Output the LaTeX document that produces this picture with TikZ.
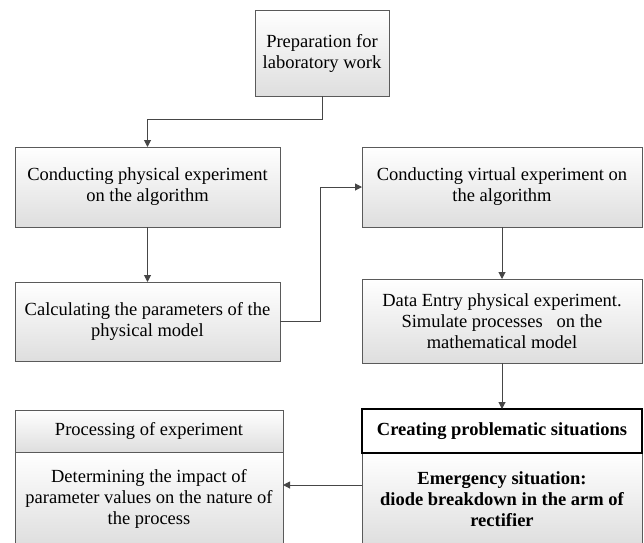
\documentclass[tikz,border=0pt]{standalone}
\usepackage{fontspec}
\setmainfont{Liberation Serif}
\usetikzlibrary{arrows.meta}
\definecolor{boxline}{RGB}{90,90,90}
\definecolor{lineclr}{RGB}{70,70,70}
\definecolor{boxbot}{RGB}{222,222,222}
\begin{document}
\begin{tikzpicture}[x=1pt,y=-1pt,
  box/.style={draw=boxline, line width=0.9pt, top color=white, bottom color=boxbot,
    align=center, inner sep=0pt, outer sep=0pt, font=\fontsize{18.5}{21}\selectfont},
  hdrbox/.style={draw=black, line width=2pt, fill=white, align=center, inner sep=0pt,
    outer sep=0pt, font=\fontsize{18.5}{21}\selectfont\bfseries},
  arr/.style={draw=lineclr, line width=1pt, -{Triangle[length=7pt,width=7pt]}},
  conn/.style={draw=lineclr, line width=1pt}]
\useasboundingbox (0,0) rectangle (644,542);
\clip (0,0) rectangle (644,542);
\node[box, minimum width=134pt, minimum height=86pt] (b1) at (322,53) {Preparation for\\laboratory work};
\node[box, minimum width=265pt, minimum height=80pt] (b2) at (147.5,187) {Conducting physical experiment\\on the algorithm};
\node[box, minimum width=265pt, minimum height=79pt] (b3) at (147.5,321.5) {Calculating the parameters of the\\physical model};
\node[box, minimum width=280pt, minimum height=80pt] (b4) at (502,187) {Conducting virtual experiment on\\the algorithm};
\node[box, minimum width=280pt, minimum height=84pt] (b5) at (502,321) {Data Entry physical experiment.\\Simulate processes\ \ \ on the\\mathematical model};
\node[box, minimum width=268pt, minimum height=42pt] (lh) at (149,431) {Processing of experiment};
\node[box, minimum width=268pt, minimum height=94pt] (lb) at (149,499) {Determining the impact of\\parameter values on the nature of\\the process};
\node[box, minimum width=280pt, minimum height=93pt, font=\fontsize{18.5}{21}\selectfont\bfseries] (rb) at (502,499.5) {Emergency situation:\\diode breakdown in the arm of\\rectifier};
\node[hdrbox, minimum width=280pt, minimum height=44pt] (rh) at (502,431) {Creating problematic situations};
\draw[arr] (b1.south) -- ++(0,23) -| (b2.north);
\draw[arr] (b2.south) -- (b3.north);
\draw[arr] (b3.east) -- ++(40,0) |- (b4.west);
\draw[arr] (b4.south) -- (b5.north);
\draw[arr] (b5.south) -- (rh.north);
\coordinate (m) at ([yshift=14.5pt]rb.west);
\draw[arr] (m) -- (m -| lb.east);
\end{tikzpicture}
\end{document}
